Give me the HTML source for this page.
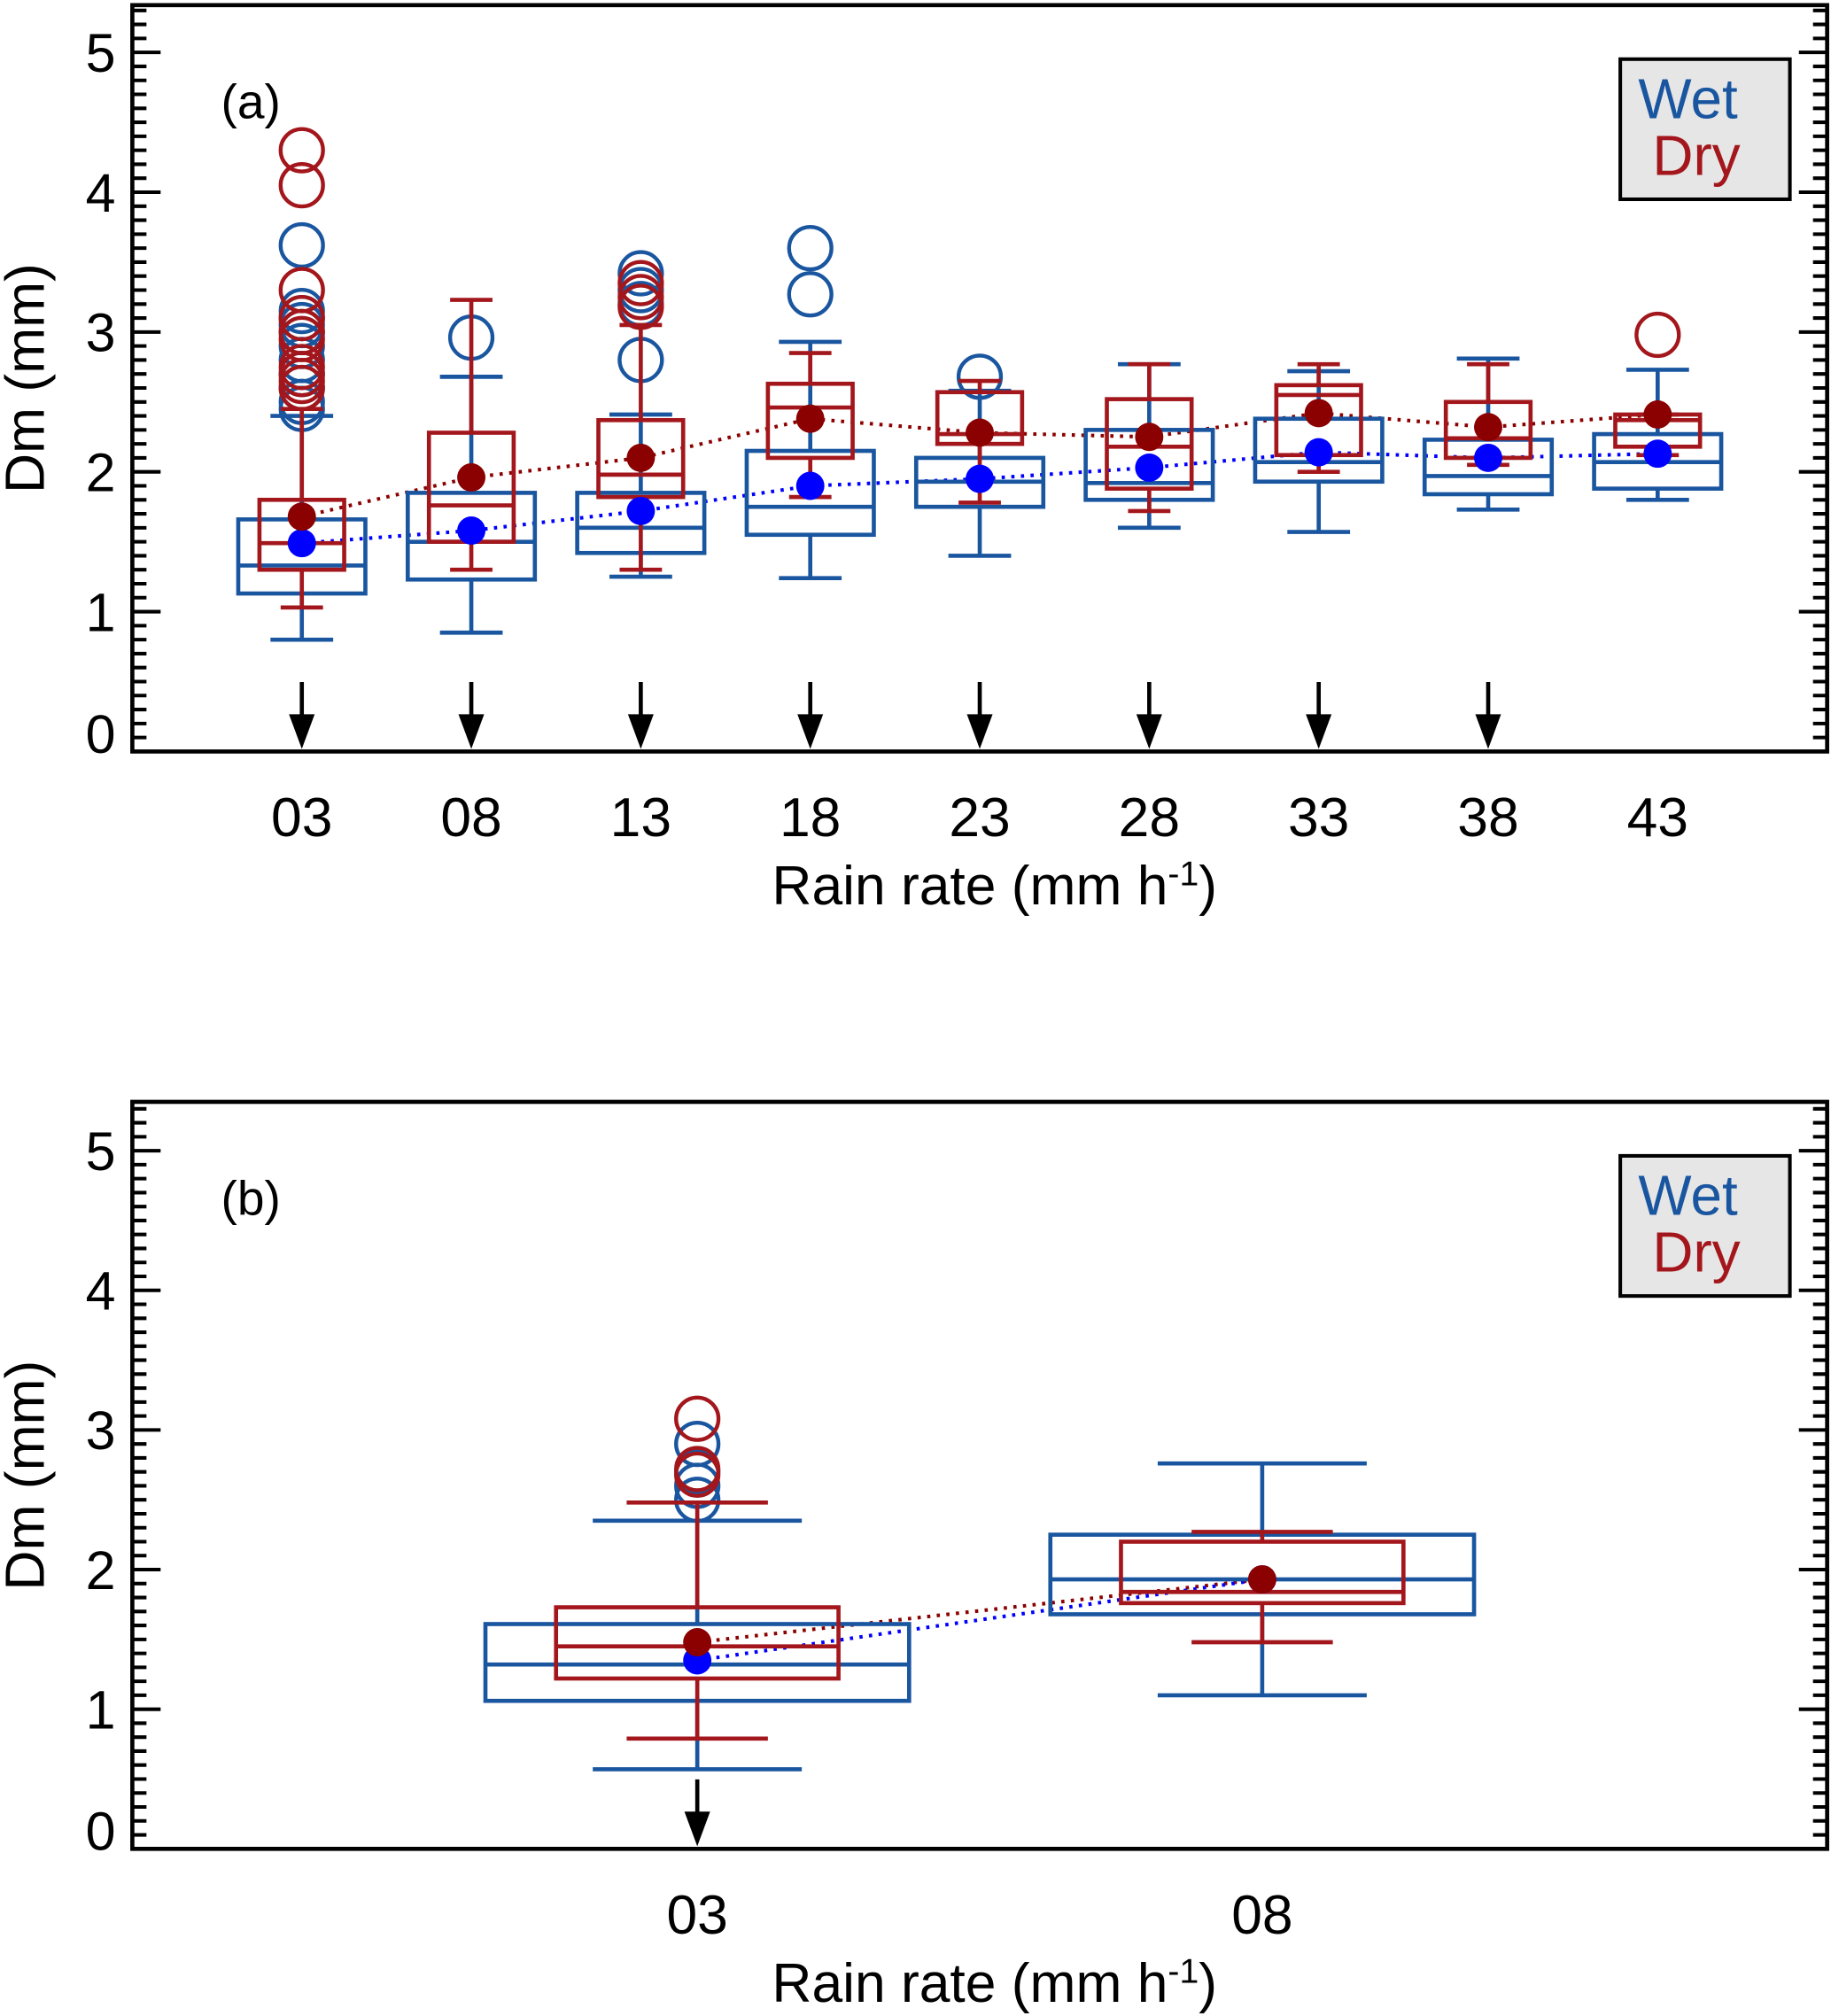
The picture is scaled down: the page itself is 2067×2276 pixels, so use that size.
<!DOCTYPE html>
<html><head><meta charset="utf-8">
<style>
html,body{margin:0;padding:0;background:#fff;}
svg{display:block;}
text{font-family:"Liberation Sans",Arial,sans-serif;}
</style></head>
<body>
<svg id="chart" xmlns="http://www.w3.org/2000/svg" width="2067" height="2276" viewBox="0 0 1425 1568" preserveAspectRatio="none"></svg>
<script>
// ---- Panel (a) data ----
const catsA = ["03","08","13","18","23","28","33","38","43"];
const wetLowA  = [0.80,0.85,1.25,1.24,1.40,1.60,1.57,1.73,1.80];
const wetQ1A   = [1.13,1.23,1.42,1.55,1.75,1.80,1.93,1.84,1.88];
const wetMedA  = [1.33,1.50,1.60,1.75,1.93,1.92,2.07,1.97,2.07];
const wetQ3A   = [1.66,1.85,1.85,2.15,2.10,2.30,2.38,2.23,2.27];
const wetHighA = [2.40,2.68,2.41,2.93,2.58,2.77,2.72,2.81,2.73];
const wetMeanA = [1.49,1.58,1.72,1.90,1.95,2.03,2.14,2.10,2.13];
const wetOutA  = [[3.62,3.15,3.10,3.05,3.00,2.90,2.80,2.70,2.60,2.50,2.45],[2.96],[3.42,3.30,3.20,2.80],[3.60,3.27],[2.68],[],[],[],[]];
const dryLowA  = [1.03,1.30,1.30,1.82,1.78,1.72,2.00,2.05,2.12];
const dryQ1A   = [1.30,1.50,1.82,2.10,2.20,1.88,2.12,2.10,2.18];
const dryMedA  = [1.49,1.76,1.98,2.46,2.27,2.18,2.55,2.24,2.37];
const dryQ3A   = [1.80,2.28,2.37,2.63,2.57,2.52,2.62,2.50,2.41];
const dryHighA = [2.45,3.23,3.05,2.85,2.65,2.77,2.77,2.77,2.41];
const dryMeanA = [1.68,1.96,2.10,2.38,2.28,2.25,2.42,2.32,2.41];
const dryOutA  = [[4.30,4.05,3.30,3.10,3.00,2.95,2.75,2.70,2.65,2.60],[],[3.35,3.25,3.18],[],[],[],[],[],[2.98]];
const arrowsA  = [1,1,1,1,1,1,1,1,0];
// ---- Panel (b) data ----
const catsB = ["03","08"];
const wetLowB  = [0.57,1.10];
const wetQ1B   = [1.06,1.68];
const wetMedB  = [1.32,1.93];
const wetQ3B   = [1.61,2.25];
const wetHighB = [2.35,2.76];
const wetMeanB = [1.35,1.93];
const wetOutB  = [[2.90,2.70,2.60,2.50],[]];
const dryLowB  = [0.79,1.48];
const dryQ1B   = [1.22,1.76];
const dryMedB  = [1.45,1.84];
const dryQ3B   = [1.73,2.20];
const dryHighB = [2.48,2.27];
const dryMeanB = [1.48,1.93];
const dryOutB  = [[3.08,2.72,2.68],[]];
const arrowsB  = [1,0];
const yTicks = [0,1,2,3,4,5];

const NS="http://www.w3.org/2000/svg";
const svg=document.getElementById('chart');
const WET="#1a56a0", DRY="#a3171c", WETM="#0000ff", DRYM="#8b0000";
function mk(tag,attrs,parent){const e=document.createElementNS(NS,tag);for(const k in attrs)e.setAttribute(k,attrs[k]);(parent||svg).appendChild(e);return e;}

function panel(cfg){
  const g=mk('g',{});
  
  
  const L=103,R=1422,T=cfg.top,B=cfg.bottom;
  const n=cfg.cats.length;
  const xs=i=>L+(i+1)*(R-L)/(n+1);
  const unit=(R-L)/(n+1);
  const ys=v=>B-v*cfg.ppu;
  for(let k=0;k<=53;k++){
    const v=k/10, y=ys(v); if(y<T+2)break;
    const len=(k%10===0)?22:11;
    const t1=mk('line',{x1:L,x2:L+len,y1:y,y2:y,stroke:'#000','stroke-width':2.8},g);
    
    
    const t2=mk('line',{x1:R,x2:R-len,y1:y,y2:y,stroke:'#000','stroke-width':2.8},g);
    
    
  }
  yTicks.forEach(v=>{
    const t=mk('text',{x:90,y:ys(v)+15-(v===0?14:0),'text-anchor':'end','font-size':42},g);
    t.textContent=v;
    
    
  });
  [[cfg.dryMean,DRYM],[cfg.wetMean,WETM]].forEach(([arr,c])=>{
    const pl=mk('polyline',{points:arr.map((v,i)=>xs(i)+','+ys(v)).join(' '),fill:'none',stroke:c,'stroke-width':2.8,'stroke-dasharray':'2.5 5'},g);
    
    
  });
  function box(i,low,q1,med,q3,high,outs,col,wfrac,cfrac,nm){
    const x=xs(i),hw=unit*wfrac/2,cw=unit*cfrac/2;
    const bg=mk('g',{},g);
    
    
    const sw=3.2;
    mk('line',{x1:x,x2:x,y1:ys(q3),y2:ys(high),stroke:col,'stroke-width':sw},bg);
    mk('line',{x1:x,x2:x,y1:ys(q1),y2:ys(low),stroke:col,'stroke-width':sw},bg);
    mk('line',{x1:x-cw,x2:x+cw,y1:ys(high),y2:ys(high),stroke:col,'stroke-width':sw},bg);
    mk('line',{x1:x-cw,x2:x+cw,y1:ys(low),y2:ys(low),stroke:col,'stroke-width':sw},bg);
    mk('rect',{x:x-hw,y:ys(q3),width:2*hw,height:ys(q1)-ys(q3),fill:'none',stroke:col,'stroke-width':sw},bg);
    mk('line',{x1:x-hw,x2:x+hw,y1:ys(med),y2:ys(med),stroke:col,'stroke-width':sw},bg);
    outs.forEach(v=>{
      const c=mk('circle',{cx:x,cy:ys(v),r:16.5,fill:'none',stroke:col,'stroke-width':3},bg);
      
      
    });
  }
  for(let i=0;i<n;i++){
    box(i,cfg.wetLow[i],cfg.wetQ1[i],cfg.wetMed[i],cfg.wetQ3[i],cfg.wetHigh[i],cfg.wetOut[i],WET,0.75,0.37,'wet');
  }
  for(let i=0;i<n;i++){
    box(i,cfg.dryLow[i],cfg.dryQ1[i],cfg.dryMed[i],cfg.dryQ3[i],cfg.dryHigh[i],cfg.dryOut[i],DRY,0.5,0.25,'dry');
  }
  for(let i=0;i<n;i++){
    const w=mk('circle',{cx:xs(i),cy:ys(cfg.wetMean[i]),r:11,fill:WETM},g);
    
    
    const d=mk('circle',{cx:xs(i),cy:ys(cfg.dryMean[i]),r:11,fill:DRYM},g);
    
    
  }
  for(let i=0;i<n;i++){ if(!cfg.arrows[i])continue;
    const x=xs(i);
    const a=mk('g',{},g);
    
    
    mk('line',{x1:x,x2:x,y1:B-54,y2:B-20,stroke:'#000','stroke-width':3.2},a);
    mk('polygon',{points:`${x-10},${B-29} ${x+10},${B-29} ${x},${B-2}`,fill:'#000'},a);
  }
  const fr=mk('rect',{x:L,y:T,width:R-L,height:B-T,fill:'none',stroke:'#000','stroke-width':3.2},g);
  
  
  cfg.cats.forEach((c,i)=>{
    const t=mk('text',{x:xs(i),y:B+66,'text-anchor':'middle','font-size':43},g);
    t.textContent=c;
    
    
  });
  const xt=mk('text',{x:774,y:B+119,'text-anchor':'middle','font-size':43},g);
  xt.innerHTML='Rain rate (mm h<tspan dy="-15" font-size="27">-1</tspan><tspan dy="15">)</tspan>';
  
  
  const cy=(T+B)/2;
  const yt=mk('text',{x:0,y:0,'text-anchor':'middle','font-size':43,transform:`translate(34,${cy}) rotate(-90)`},g);
  yt.textContent='Dm (mm)';
  
  
  const pl=mk('text',{x:172,y:T+88,'font-size':38},g);
  pl.textContent=cfg.label;
  
  
  const lg=mk('g',{},g);
  
  
  mk('rect',{x:1261,y:T+42,width:132,height:109,fill:'#e6e6e6',stroke:'#000','stroke-width':2.8},lg);
  const lw=mk('text',{x:1275,y:T+88,'font-size':44,fill:WET},lg);
  lw.textContent='Wet';
  
  
  const ld=mk('text',{x:1286,y:T+132,'font-size':44,fill:DRY},lg);
  ld.textContent='Dry';
  
  
}
panel({name:'panel-a',label:'(a)',top:4,bottom:584.5,ppu:108.75,cats:catsA,
  wetLow:wetLowA,wetQ1:wetQ1A,wetMed:wetMedA,wetQ3:wetQ3A,wetHigh:wetHighA,wetMean:wetMeanA,wetOut:wetOutA,
  dryLow:dryLowA,dryQ1:dryQ1A,dryMed:dryMedA,dryQ3:dryQ3A,dryHigh:dryHighA,dryMean:dryMeanA,dryOut:dryOutA,arrows:arrowsA});
panel({name:'panel-b',label:'(b)',top:857,bottom:1438,ppu:108.6,cats:catsB,
  wetLow:wetLowB,wetQ1:wetQ1B,wetMed:wetMedB,wetQ3:wetQ3B,wetHigh:wetHighB,wetMean:wetMeanB,wetOut:wetOutB,
  dryLow:dryLowB,dryQ1:dryQ1B,dryMed:dryMedB,dryQ3:dryQ3B,dryHigh:dryHighB,dryMean:dryMeanB,dryOut:dryOutB,arrows:arrowsB});
</script>
</body></html>
